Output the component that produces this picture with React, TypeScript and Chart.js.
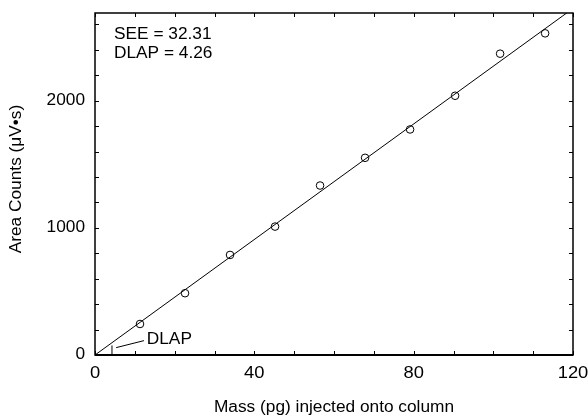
import React, { useEffect, useRef } from "react";
import { Chart, registerables } from "chart.js";

Chart.register(...registerables);

// Calibration data: mass injected (pg) vs area counts (µV·s)
const massPg = [11.3, 22.6, 33.9, 45.2, 56.5, 67.8, 79.1, 90.4, 101.7, 113.0];
const areaCounts = [244, 486, 787, 1010, 1333, 1551, 1774, 2039, 2370, 2530];

// Fitted calibration line end points
const fitX = [0, 120];
const fitY = [0, 2726];

// Detection limit (DLAP) marker
const dlapValue = 4.26;
const dlapMarkY = [0, 75];
const dlapLeaderX = [5.3, 12.3];
const dlapLeaderY = [58, 113];
const dlapLabelAt = [13.0, 118];

const statLines = ["SEE = 32.31", "DLAP = 4.26"];

const xMajorTicks = [0, 40, 80, 120];
const xMinorTicks = [10, 20, 30, 50, 60, 70, 90, 100, 110];
const yMajorTicks = [0, 1000, 2000];
const yMinorTicks = [200, 400, 600, 800, 1200, 1400, 1600, 1800, 2200, 2400, 2600];

const xTitle = "Mass (pg) injected onto column";
const yTitle = "Area Counts (\u03bcV\u2022s)";

const FONT = "Arial, 'Liberation Sans', sans-serif";
const STRETCH = 1.08;

function drawText(ctx: any, text: string, x: number, y: number, align: string, size: number, rot = 0) {
  ctx.save();
  ctx.translate(x, y);
  if (rot) ctx.rotate(rot);
  ctx.scale(STRETCH, 1);
  ctx.font = `${size}px ${FONT}`;
  ctx.textAlign = align;
  ctx.textBaseline = "middle";
  ctx.fillStyle = "#000";
  ctx.fillText(text, 0, 0);
  ctx.restore();
}

export default function App() {
  const ref = useRef<HTMLCanvasElement | null>(null);

  useEffect(() => {
    if (!ref.current) return;

    const framePlugin = {
      id: "frame",
      afterDraw(chart: any) {
        const { ctx, chartArea } = chart;
        const xs = chart.scales.x;
        const ys = chart.scales.y;
        const { left, right, top, bottom } = chartArea;
        ctx.save();
        ctx.strokeStyle = "#000";
        // frame
        ctx.lineWidth = 1.5;
        ctx.strokeRect(left, top, right - left, bottom - top);
        ctx.lineWidth = 2;
        ctx.beginPath();
        ctx.moveTo(left, bottom);
        ctx.lineTo(right, bottom);
        ctx.stroke();
        // inner ticks on all four sides
        ctx.lineWidth = 1;
        const tl = 4;
        const allX = [...xMajorTicks, ...xMinorTicks];
        const allY = [...yMajorTicks, ...yMinorTicks];
        ctx.beginPath();
        allX.forEach((v) => {
          const px = Math.round(xs.getPixelForValue(v)) + 0.5;
          ctx.moveTo(px, bottom);
          ctx.lineTo(px, bottom - tl);
          ctx.moveTo(px, top);
          ctx.lineTo(px, top + tl);
        });
        allY.forEach((v) => {
          const py = Math.round(ys.getPixelForValue(v)) + 0.5;
          ctx.moveTo(left, py);
          ctx.lineTo(left + tl, py);
          ctx.moveTo(right, py);
          ctx.lineTo(right - tl, py);
        });
        ctx.stroke();
        ctx.restore();

        // tick labels
        xMajorTicks.forEach((v) => {
          drawText(ctx, String(v), xs.getPixelForValue(v), bottom + 18, "center", 17);
        });
        yMajorTicks.forEach((v) => {
          drawText(ctx, String(v), left - 10, ys.getPixelForValue(v), "right", 16);
        });

        // annotation texts
        statLines.forEach((t, i) => {
          drawText(ctx, t, left + 19, top + 22 + i * 19, "left", 16);
        });
        drawText(
          ctx,
          "DLAP",
          xs.getPixelForValue(dlapLabelAt[0]),
          ys.getPixelForValue(dlapLabelAt[1]),
          "left",
          16
        );

        // axis titles
        drawText(ctx, xTitle, (left + right) / 2, 408, "center", 16);
        drawText(ctx, yTitle, 17, (top + bottom) / 2 - 5, "center", 16, -Math.PI / 2);
      },
    };

    const lineStyle = {
      showLine: true,
      borderColor: "#000",
      borderWidth: 1,
      pointRadius: 0,
      pointHoverRadius: 0,
      fill: false,
    };

    const chart = new Chart(ref.current, {
      type: "scatter",
      data: {
        datasets: [
          {
            label: "fit",
            data: fitX.map((x, i) => ({ x, y: fitY[i] })),
            ...lineStyle,
          },
          {
            label: "dlap mark",
            data: dlapMarkY.map((y) => ({ x: dlapValue, y })),
            ...lineStyle,
          },
          {
            label: "dlap leader",
            data: dlapLeaderX.map((x, i) => ({ x, y: dlapLeaderY[i] })),
            ...lineStyle,
          },
          {
            label: "samples",
            data: massPg.map((x, i) => ({ x, y: areaCounts[i] })),
            showLine: false,
            pointStyle: "circle",
            pointRadius: 3.8,
            pointBorderWidth: 1,
            pointBorderColor: "#000",
            pointBackgroundColor: "#fff",
          },
        ],
      },
      options: {
        responsive: false,
        animation: false,
        layout: { padding: { top: 13, right: 15, left: 0, bottom: 0 } },
        plugins: {
          legend: { display: false },
          tooltip: { enabled: false },
        },
        scales: {
          x: {
            type: "linear",
            min: 0,
            max: 120,
            grid: { display: false, drawTicks: false },
            border: { display: false },
            ticks: { display: false },
            afterFit: (s: any) => {
              s.height = 62;
            },
          },
          y: {
            type: "linear",
            min: 0,
            max: 2690,
            grid: { display: false, drawTicks: false },
            border: { display: false },
            ticks: { display: false },
            afterFit: (s: any) => {
              s.width = 95;
            },
          },
        },
      },
      plugins: [framePlugin],
    });

    return () => chart.destroy();
  }, []);

  return (
    <div style={{ position: "absolute", left: 0, top: 0, width: 588, height: 417, background: "#fff" }}>
      <canvas ref={ref} width={588} height={417} />
    </div>
  );
}
